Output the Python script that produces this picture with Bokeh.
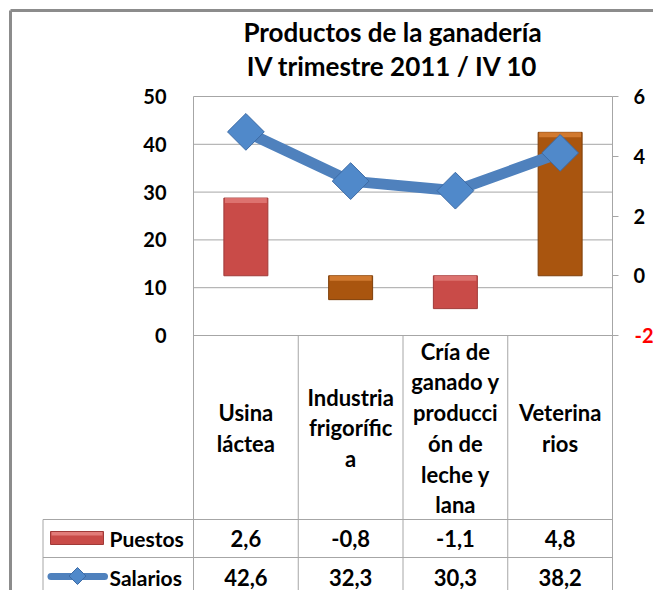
from bokeh.plotting import figure
from bokeh.models import Range1d, LinearAxis, FixedTicker, ColumnDataSource
from bokeh.core.properties import value
from bokeh.embed import file_html
from bokeh.resources import INLINE
import math

# ---------------- data ----------------
title_lines = ["Productos de la ganadería", "IV trimestre 2011 / IV 10"]
categories = ["Usina láctea", "Industria frigorífica",
              "Cría de ganado y producción de leche y lana", "Veterinarios"]
category_labels = ["Usina\nláctea", "Industria\nfrigorífic\na",
                   "Cría de\nganado y\nproducci\nón de\nleche y\nlana", "Veterina\nrios"]
series_names = ["Puestos", "Salarios"]
puestos = [2.6, -0.8, -1.1, 4.8]      # right axis
salarios = [42.6, 32.3, 30.3, 38.2]   # left axis
left_ticks = [0, 10, 20, 30, 40, 50]
right_ticks = [-2, 0, 2, 4, 6]

# ---------------- layout (pixel positions on the canvas) ----------------
W, H = 653, 590
FRAME_L, FRAME_R = 193, 612
Y_TOP, Y_BOT_AXIS = 96, 335

n = len(categories)
ppx = (FRAME_R - FRAME_L) / n
ppl = (Y_BOT_AXIS - Y_TOP) / (left_ticks[-1] - left_ticks[0])
ppr = (Y_BOT_AXIS - Y_TOP) / (right_ticks[-1] - right_ticks[0])


def X(px):
    return -0.5 + (px - FRAME_L) / ppx


def Y(py):
    return left_ticks[-1] - (py - Y_TOP) / ppl


def YR(py):
    return right_ticks[-1] - (py - Y_TOP) / ppr


FONT = "Lato"
GRID = "#A6A6A6"
bar_colors = ["#C94B48", "#A9550F", "#C94B48", "#A9550F"]
bar_lines = ["#A03A38", "#7E3F0A", "#A03A38", "#7E3F0A"]
bar_bevel = ["#E27C79", "#DB8237", "#E27C79", "#DB8237"]
BLUE = "#4F81BD"
DIAMOND = "#5089CA"

p = figure(width=W, height=H, min_border=0,
           x_range=Range1d(X(0), X(W)), y_range=Range1d(Y(H), Y(0)),
           x_axis_location=None, y_axis_location=None,
           output_backend="svg", toolbar_location=None)
p.extra_y_ranges = {"right": Range1d(YR(H), YR(0))}
p.outline_line_color = None
p.xgrid.visible = False
p.ygrid.visible = False


def style_axis(ax):
    ax.major_tick_in = 0
    ax.minor_tick_out = 0
    ax.minor_tick_in = 0
    ax.axis_line_color = GRID
    ax.major_tick_line_color = GRID
    ax.major_label_text_font = FONT
    ax.major_label_text_font_style = "bold"
    ax.major_label_text_font_size = "20px"
    ax.major_label_text_color = "black"


# left axis (Salarios)
lax = LinearAxis(ticker=FixedTicker(ticks=left_ticks), fixed_location=-0.5,
                 bounds=(Y(H), left_ticks[-1]))
style_axis(lax)
lax.major_tick_out = 0
lax.major_label_standoff = 27
p.add_layout(lax, "left")

# right axis (Puestos)
rax = LinearAxis(y_range_name="right", ticker=FixedTicker(ticks=right_ticks),
                 fixed_location=n - 0.5, bounds=(YR(H), right_ticks[-1]))
style_axis(rax)
rax.major_tick_out = 6
rax.major_label_standoff = 15
rax.major_label_overrides = {right_ticks[0]: ""}
p.add_layout(rax, "right")
p.text(x=[X(634)], y=[right_ticks[0]], text=[str(right_ticks[0])], y_range_name="right",
       text_align="left", text_baseline="middle", text_font=value(FONT),
       text_font_style="bold", text_font_size="20px", text_color="#FF0000")

# horizontal gridlines at the left-axis ticks
p.segment(x0=[-0.5] * len(left_ticks), x1=[n - 0.5] * len(left_ticks),
          y0=left_ticks, y1=left_ticks, line_color=GRID, line_width=1)

# outer chart border
p.segment(x0=[X(10), X(10)], y0=[Y(10), Y(10)], x1=[X(W + 5), X(10)], y1=[Y(10), Y(H + 5)],
          line_color="#8C8C8C", line_width=3)

# title
p.text(x=[X(392)] * 2, y=[Y(31.5), Y(65)], text=title_lines, text_align="center",
       text_baseline="middle", text_font=value(FONT), text_font_style="bold",
       text_font_size="26px", text_color="black")

idx = list(range(n))

# bars (Puestos, right axis)
bars = ColumnDataSource(dict(
    x=idx, top=puestos, bottom=[0] * n, fill=bar_colors, line=bar_lines,
    btop=[max(v, 0) for v in puestos],
    bbot=[max(v, 0) - 5 / ppr for v in puestos], bevel=bar_bevel))
p.vbar(x="x", top="top", bottom="bottom", width=0.42, source=bars,
       fill_color="fill", line_color="line", y_range_name="right")
p.vbar(x="x", top="btop", bottom="bbot", width=0.40, source=bars,
       fill_color="bevel", line_color=None, fill_alpha=0.8, y_range_name="right")

# line (Salarios, left axis)
p.line(idx, salarios, line_color=BLUE, line_width=11, line_join="round")
p.scatter(idx, salarios, marker="square", size=26, angle=math.pi / 4,
          fill_color=DIAMOND, line_color="#3D6BA5", line_width=1)

# ---------------- data table ----------------
rows_y = [519, 557, 596]
p.segment(x0=[X(42.5)] * len(rows_y), x1=[n - 0.5] * len(rows_y),
          y0=[Y(r) for r in rows_y], y1=[Y(r) for r in rows_y],
          line_color=GRID, line_width=1)
p.segment(x0=[i + 0.5 for i in range(n - 1)] + [X(42.5)],
          x1=[i + 0.5 for i in range(n - 1)] + [X(42.5)],
          y0=[Y(Y_BOT_AXIS)] * (n - 1) + [Y(519)], y1=[Y(H + 5)] * n,
          line_color=GRID, line_width=1)

p.text(x=idx, y=[Y(427.5)] * n, text=category_labels, text_align="center",
       text_baseline="middle", text_font=value(FONT), text_font_style="bold",
       text_font_size="22px", text_line_height=1.136, text_color="black")


def fmt(v):
    return f"{v:.1f}".replace(".", ",")


p.text(x=idx, y=[Y(537.5)] * n, text=[fmt(v) for v in puestos], text_align="center",
       text_baseline="middle", text_font=value(FONT), text_font_style="bold",
       text_font_size="22px", text_color="black")
p.text(x=idx, y=[Y(576.5)] * n, text=[fmt(v) for v in salarios], text_align="center",
       text_baseline="middle", text_font=value(FONT), text_font_style="bold",
       text_font_size="22px", text_color="black")

# legend keys in the table's first column
p.quad(left=[X(50)], right=[X(103)], top=[Y(531)], bottom=[Y(544)],
       fill_color=bar_colors[0], line_color=bar_lines[0])
p.quad(left=[X(51)], right=[X(102)], top=[Y(531.5)], bottom=[Y(535)],
       fill_color=bar_bevel[0], line_color=None)
p.line(x=[X(50.5), X(104)], y=[Y(576), Y(576)], line_color=BLUE, line_width=7,
       line_cap="round")
p.scatter(x=[X(77)], y=[Y(575.5)], marker="square", size=12, angle=math.pi / 4,
          fill_color=DIAMOND, line_color="#3D6BA5", line_width=1)
p.text(x=[X(109)] * 2, y=[Y(537.5), Y(576.5)], text=series_names, text_align="left",
       text_baseline="middle", text_font=value(FONT), text_font_style="bold",
       text_font_size="21px", text_color="black")

open("out.html", "w").write(file_html(p, INLINE))
